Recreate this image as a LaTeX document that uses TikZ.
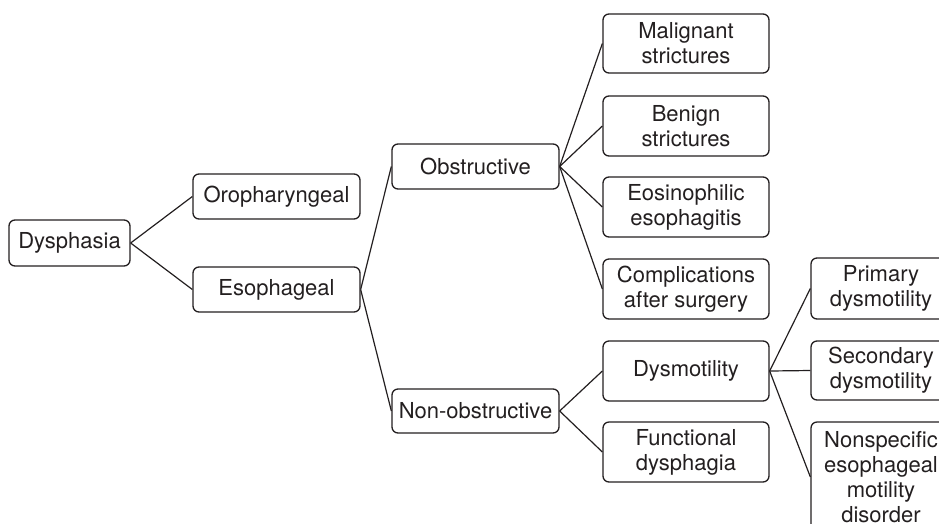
\documentclass[tikz,border=0pt]{standalone}
\usepackage{fontspec}
\setmainfont{TeX Gyre Heros}
\definecolor{ink}{RGB}{35,31,32}
\begin{document}
\begin{tikzpicture}[x=1pt,y=-1pt,
  box/.style={draw=ink, line width=1.3pt, rounded corners=6pt, inner sep=0pt, align=center,
    text=ink, font=\fontsize{22}{25}\selectfont},
  link/.style={draw=ink, line width=1.2pt}]
\clip (0,0) rectangle (939,523);
\node[box, minimum width=121pt, minimum height=46pt] (dys) at (69.5,243) {Dysphasia};
\node[box, minimum width=167pt, minimum height=45pt] (oro) at (276.5,196.5) {Oropharyngeal};
\node[box, minimum width=167pt, minimum height=45pt] (eso) at (276.5,289.5) {Esophageal};
\node[box, minimum width=167pt, minimum height=45pt] (obs) at (475.5,166.5) {Obstructive};
\node[box, minimum width=167pt, minimum height=44pt] (non) at (475.5,411) {Non-obstructive};
\node[box, minimum width=166pt, minimum height=59pt] (mal) at (686,43.5) {Malignant\\strictures};
\node[box, minimum width=166pt, minimum height=60pt] (ben) at (686,126) {Benign\\strictures};
\node[box, minimum width=166pt, minimum height=60pt] (eos) at (686,207) {Eosinophilic\\esophagitis};
\node[box, minimum width=166pt, minimum height=60pt] (com) at (686,289) {Complications\\after surgery};
\node[box, minimum width=166pt, minimum height=60pt] (dsm) at (686,371) {Dysmotility};
\node[box, minimum width=166pt, minimum height=60pt] (fun) at (686,452) {Functional\\dysphagia};
\node[box, minimum width=140pt, minimum height=61pt] (pri) at (881,288.5) {Primary\\dysmotility};
\node[box, minimum width=140pt, minimum height=59pt] (sec) at (881,370.5) {Secondary\\dysmotility};
\node[box, minimum width=140pt, minimum height=110pt] (nsp) at (881,477) {Nonspecific\\esophageal\\motility\\disorder};
\draw[link] (dys.east) -- (oro.west);
\draw[link] (dys.east) -- (eso.west);
\draw[link] (eso.east) -- (obs.west);
\draw[link] (eso.east) -- (non.west);
\draw[link] (obs.east) -- (mal.west);
\draw[link] (obs.east) -- (ben.west);
\draw[link] (obs.east) -- (eos.west);
\draw[link] (obs.east) -- (com.west);
\draw[link] (non.east) -- (dsm.west);
\draw[link] (non.east) -- (fun.west);
\draw[link] (dsm.east) -- (pri.west);
\draw[link] (dsm.east) -- (sec.west);
\draw[link] (dsm.east) -- (nsp.west);
\end{tikzpicture}
\end{document}
